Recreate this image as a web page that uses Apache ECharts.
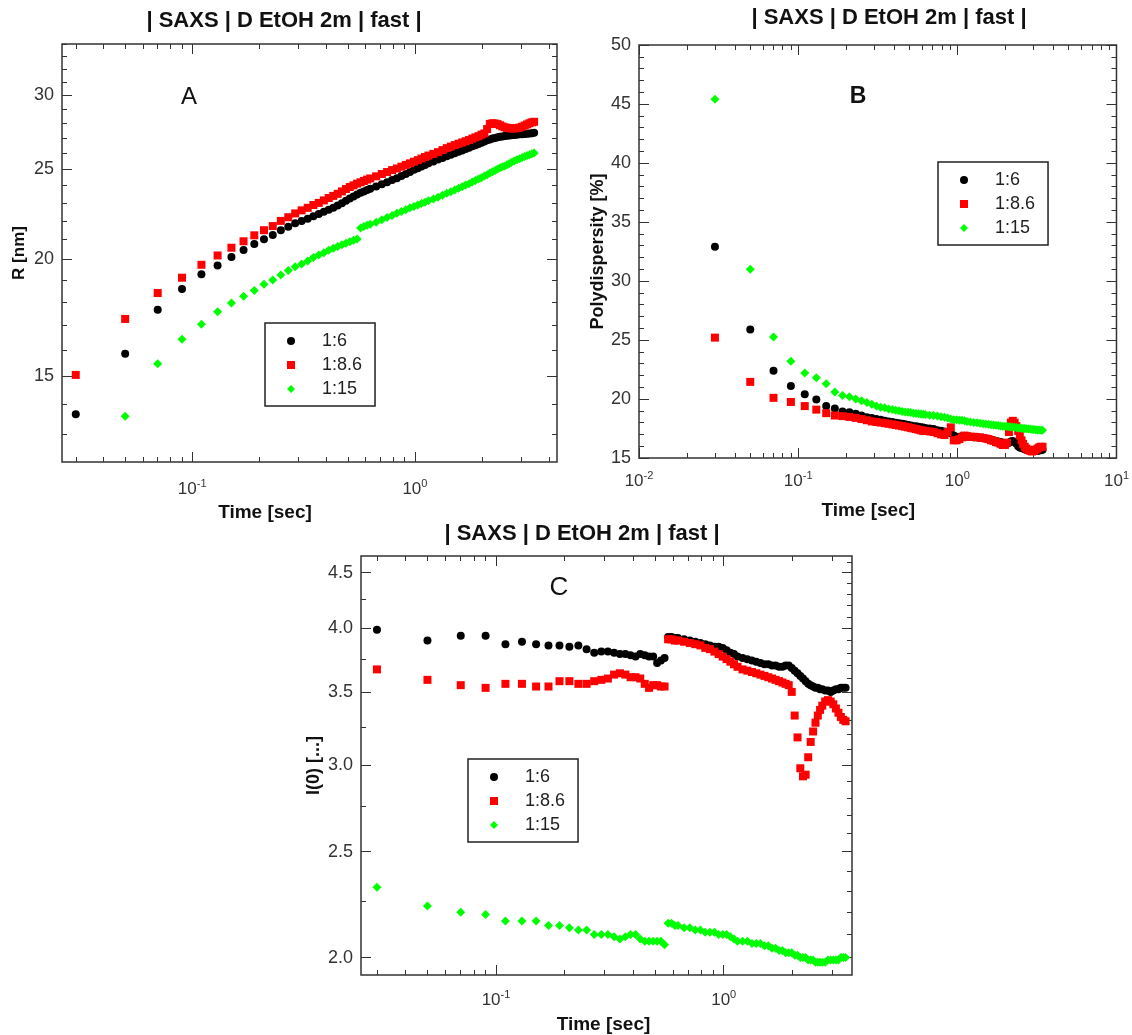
<!DOCTYPE html>
<html>
<head>
<meta charset="utf-8">
<script src="https://cdn.jsdelivr.net/npm/echarts@6/dist/echarts.min.js"></script>
<style>
html,body{margin:0;padding:0;background:#fff;}
#chart{width:1132px;height:1035px;}
</style>
</head>
<body>
<div id="chart"></div>
<script>
// ---------------- DATA ----------------
const TITLE = '| SAXS | D EtOH 2m | fast |';
const SERIES_NAMES = ['1:6', '1:8.6', '1:15'];

// acquisition times [sec]
const T = [
  0.03,0.05,0.07,0.09,0.11,0.13,0.15,0.17,0.19,0.21,
  0.23,0.25,0.27,0.29,0.31,0.33,0.35,0.37,0.39,0.41,
  0.43,0.45,0.47,0.49,0.51,0.53,0.55,0.57,0.59,0.61,
  0.63,0.67,0.71,0.75,0.79,0.83,0.87,0.91,0.95,0.99,
  1.03,1.07,1.11,1.15,1.21,1.27,1.33,1.39,1.45,1.51,
  1.57,1.63,1.69,1.75,1.81,1.87,1.93,1.99,2.05,2.11,
  2.17,2.23,2.29,2.35,2.41,2.47,2.53,2.59,2.65,2.71,
  2.79,2.87,2.95,3.03,3.11,3.19,3.27,3.35,3.43
];

// Panel A : R [nm]
const A_black = [
  13.65,15.85,17.67,18.60,19.28,19.70,20.12,20.48,20.78,21.02,
  21.25,21.50,21.68,21.87,22.00,22.12,22.25,22.38,22.50,22.62,
  22.72,22.85,22.98,23.12,23.25,23.36,23.48,23.58,23.66,23.74,
  23.82,23.95,24.08,24.20,24.33,24.45,24.58,24.70,24.83,24.96,
  25.06,25.16,25.26,25.36,25.48,25.60,25.70,25.80,25.90,26.00,
  26.10,26.18,26.27,26.36,26.45,26.52,26.60,26.68,26.76,26.84,
  26.90,26.96,27.00,27.04,27.08,27.10,27.13,27.15,27.17,27.18,
  27.20,27.22,27.24,27.25,27.27,27.28,27.30,27.32,27.35
];
const A_red = [
  15.04,17.27,18.41,19.12,19.74,20.20,20.59,20.92,21.23,21.50,
  21.72,22.00,22.20,22.41,22.58,22.72,22.88,23.00,23.14,23.28,
  23.40,23.52,23.66,23.80,23.92,24.02,24.12,24.20,24.28,24.36,
  24.43,24.56,24.70,24.82,24.94,25.04,25.15,25.26,25.36,25.46,
  25.56,25.66,25.76,25.85,25.96,26.07,26.20,26.33,26.43,26.53,
  26.62,26.70,26.78,26.86,26.96,27.04,27.12,27.22,27.30,27.60,
  27.95,28.00,27.98,27.94,27.86,27.78,27.72,27.68,27.66,27.64,
  27.64,27.66,27.70,27.76,27.84,27.92,28.00,28.06,28.10
];
const A_green = [
  null,13.58,15.46,16.42,17.04,17.58,17.96,18.26,18.52,18.81,
  19.01,19.25,19.46,19.64,19.78,19.92,20.10,20.22,20.34,20.46,
  20.56,20.65,20.74,20.82,20.90,20.97,21.04,21.62,21.70,21.76,
  21.82,21.92,22.06,22.18,22.30,22.42,22.52,22.62,22.72,22.80,
  22.88,22.96,23.04,23.12,23.22,23.32,23.44,23.56,23.64,23.74,
  23.84,23.94,24.04,24.12,24.22,24.30,24.40,24.48,24.58,24.66,
  24.76,24.84,24.92,25.00,25.08,25.14,25.20,25.27,25.34,25.41,
  25.50,25.58,25.65,25.72,25.79,25.85,25.91,25.96,26.02
];

// Panel B : Polydispersity [%]
const B_black = [
  32.9,25.9,22.4,21.1,20.4,19.95,19.4,19.2,18.95,18.88,
  18.75,18.6,18.45,18.4,18.3,18.25,18.15,18.1,18.05,17.98,
  17.95,17.9,17.85,17.8,17.75,17.7,17.7,17.65,17.6,17.58,
  17.55,17.5,17.45,17.35,17.3,17.25,17.2,17.1,16.9,16.8,
  16.8,16.85,16.85,16.8,16.8,16.75,16.75,16.7,16.7,16.65,
  16.6,16.55,16.5,16.45,16.4,16.35,16.3,16.25,16.2,16.3,
  16.4,16.45,16.35,16.2,16.0,15.9,15.85,15.8,15.75,15.7,
  15.7,15.65,15.6,15.6,15.6,15.6,15.65,15.65,15.7
];
const B_red = [
  25.2,21.45,20.1,19.75,19.4,19.1,18.8,18.6,18.55,18.48,
  18.4,18.3,18.2,18.1,18.05,18.0,17.95,17.9,17.85,17.8,
  17.75,17.7,17.65,17.6,17.55,17.5,17.45,17.4,17.35,17.3,
  17.3,17.25,17.2,17.1,17.0,16.95,17.2,17.6,16.5,16.5,
  16.6,16.75,16.9,16.85,16.8,16.8,16.75,16.75,16.7,16.65,
  16.6,16.5,16.45,16.35,16.3,16.2,16.1,16.1,16.3,17.2,
  18.0,18.15,18.0,17.7,17.3,16.9,16.5,16.2,15.95,15.8,
  15.7,15.6,15.55,15.6,15.7,15.8,15.9,15.95,15.95
];
const B_green = [
  45.4,31.0,25.25,23.2,22.2,21.8,21.3,20.6,20.3,20.2,
  20.0,19.85,19.7,19.55,19.4,19.3,19.25,19.15,19.1,19.05,
  19.0,18.95,18.9,18.88,18.85,18.8,18.78,18.75,18.72,18.7,
  18.68,18.62,18.6,18.55,18.5,18.45,18.4,18.3,18.25,18.25,
  18.2,18.2,18.15,18.1,18.05,18.0,17.98,17.95,17.9,17.88,
  17.85,17.82,17.8,17.78,17.75,17.72,17.7,17.7,17.68,17.65,
  17.62,17.6,17.6,17.58,17.55,17.55,17.52,17.5,17.5,17.48,
  17.46,17.45,17.42,17.42,17.4,17.38,17.38,17.36,17.35
];

// Panel C : I(0)
const C_black = [
  3.99,3.90,3.94,3.94,3.87,3.89,3.87,3.86,3.86,3.85,
  3.86,3.83,3.80,3.81,3.81,3.80,3.79,3.79,3.78,3.77,
  3.79,3.78,3.77,3.77,3.72,3.74,3.76,3.93,3.93,3.92,
  3.92,3.91,3.90,3.89,3.88,3.87,3.86,3.85,3.85,3.84,
  3.82,3.80,3.79,3.77,3.76,3.75,3.74,3.73,3.72,3.71,
  3.71,3.70,3.70,3.69,3.69,3.70,3.70,3.68,3.66,3.64,
  3.62,3.60,3.58,3.56,3.55,3.54,3.53,3.53,3.52,3.52,
  3.51,3.51,3.50,3.51,3.52,3.52,3.53,3.53,3.53
];
const C_red = [
  3.67,3.59,3.55,3.53,3.56,3.56,3.54,3.54,3.58,3.58,
  3.56,3.56,3.58,3.59,3.60,3.63,3.64,3.63,3.61,3.61,
  3.60,3.56,3.53,3.55,3.55,3.54,3.54,3.91,3.91,3.90,
  3.90,3.89,3.88,3.87,3.86,3.84,3.83,3.81,3.79,3.77,
  3.75,3.73,3.71,3.69,3.67,3.66,3.65,3.64,3.63,3.62,
  3.61,3.60,3.59,3.58,3.57,3.56,3.55,3.50,3.33,3.18,
  2.98,2.93,2.94,3.05,3.15,3.22,3.28,3.33,3.37,3.40,
  3.43,3.44,3.43,3.41,3.38,3.35,3.32,3.30,3.29
];
const C_green = [
  2.32,2.23,2.20,2.19,2.16,2.16,2.16,2.14,2.14,2.13,
  2.12,2.12,2.10,2.10,2.10,2.09,2.08,2.09,2.10,2.10,
  2.08,2.07,2.07,2.07,2.07,2.07,2.055,2.15,2.15,2.14,
  2.14,2.13,2.13,2.12,2.12,2.11,2.11,2.11,2.10,2.10,
  2.10,2.09,2.08,2.07,2.07,2.07,2.06,2.06,2.06,2.05,
  2.05,2.04,2.04,2.03,2.03,2.02,2.02,2.02,2.01,2.01,
  2.00,2.00,2.00,1.99,1.99,1.99,1.98,1.98,1.98,1.98,
  1.98,1.99,1.99,1.99,1.99,1.99,2.00,2.00,2.00
];

// tick values
const LOG_MAJOR = [0.01, 0.1, 1, 10];
const LOG_MINOR = [0.02,0.03,0.04,0.05,0.06,0.07,0.08,0.09,
                   0.2,0.3,0.4,0.5,0.6,0.7,0.8,0.9,
                   2,3,4,5,6,7,8,9];
const A_Y_MAJOR = [15, 20, 25, 30];
const A_Y_MINOR = [13,14,16,17,18,19,21,22,23,24,26,27,28,29,31,32,33,34];
const B_Y_MAJOR = [15, 20, 25, 30, 35, 40, 45, 50];
const B_Y_MINOR = [16,17,18,19,21,22,23,24,26,27,28,29,31,32,33,34,36,37,38,39,41,42,43,44,46,47,48,49];
const C_Y_MAJOR = [2.0, 2.5, 3.0, 3.5, 4.0, 4.5];
const C_Y_MINOR_L = [2.25, 2.75, 3.25, 3.75, 4.25];
const C_Y_MINOR_R = [2.1,2.2,2.3,2.4,2.6,2.7,2.8,2.9,3.1,3.2,3.3,3.4,3.6,3.7,3.8,3.9,4.1,4.2,4.3,4.4,4.6];

// ---------------- STYLE / LAYOUT ----------------
const FONT = '"Liberation Sans", Arial, Helvetica, sans-serif';
const TICK = '#333';
const COLORS = ['#000000', '#ff0000', '#00ff00'];
const SYMBOLS = ['circle', 'rect', 'diamond'];
const SIZES = [8, 8, 9];

function logLabel(margin) {
  return {
    show: true, margin: margin, fontFamily: FONT,
    formatter: v => '{b|10}{s|' + Math.round(Math.log10(v)) + '}',
    rich: {
      b: {fontSize: 17, fontFamily: FONT, color: '#333', lineHeight: 22},
      s: {fontSize: 11, fontFamily: FONT, color: '#333', verticalAlign: 'top', lineHeight: 12}
    }
  };
}
function numLabel(fmt) {
  return {show: true, margin: 8, fontSize: 18, fontFamily: FONT, color: '#333', formatter: fmt};
}
function tickStyle(vals, len) {
  return {show: true, inside: true, length: len, customValues: vals, lineStyle: {color: TICK, width: 1}};
}
function makeAxes(dim, gi, type, min, max, major, minorA, minorB, label, nameOpt) {
  const posA = dim === 'x' ? 'bottom' : 'left';
  const posB = dim === 'x' ? 'top' : 'right';
  const base = {gridIndex: gi, type: type, min: min, max: max,
    splitLine: {show: false}, axisLine: {show: false, onZero: false}, silent: true};
  if (type === 'log') base.logBase = 10;
  const lab = Object.assign({customValues: major}, label);
  return [
    Object.assign({}, base, {position: posA, axisTick: tickStyle(major, 10), axisLabel: lab}, nameOpt),
    Object.assign({}, base, {position: posA, axisTick: tickStyle(minorA, 5), axisLabel: {show: false}}),
    Object.assign({}, base, {position: posB, axisTick: tickStyle(major, 10), axisLabel: {show: false}}),
    Object.assign({}, base, {position: posB, axisTick: tickStyle(minorB, 5), axisLabel: {show: false}})
  ];
}
function xName(gap, shift) {
  return {name: 'Time [sec]', nameLocation: 'middle', nameGap: gap,
    nameTextStyle: {fontSize: 19, fontWeight: 'bold', color: '#111', fontFamily: FONT,
      padding: shift > 0 ? [0, shift, 0, 0] : [0, 0, 0, -shift]}};
}
function yName(text, gap, size) {
  return {name: text, nameLocation: 'middle', nameGap: gap,
    nameTextStyle: {fontSize: size, fontWeight: 'bold', color: '#111', fontFamily: FONT}};
}

const xAxes = [].concat(
  makeAxes('x', 0, 'log', 0.02602, 4.345, LOG_MAJOR, LOG_MINOR, LOG_MINOR, logLabel(16), xName(41, 89)),
  makeAxes('x', 1, 'log', 0.0099999, 10.00001, LOG_MAJOR, LOG_MINOR, LOG_MINOR, logLabel(12), xName(43, 19)),
  makeAxes('x', 2, 'log', 0.02553, 3.66, LOG_MAJOR, LOG_MINOR, LOG_MINOR, logLabel(14), xName(40, 6))
);
const yAxes = [].concat(
  makeAxes('y', 0, 'log', 12.13, 34.05, A_Y_MAJOR, A_Y_MINOR, A_Y_MINOR, numLabel(v => String(Math.round(v))), yName('R [nm]', 34, 17)),
  makeAxes('y', 1, 'value', 15, 50, B_Y_MAJOR, B_Y_MINOR, B_Y_MINOR, numLabel(v => String(Math.round(v))), yName('Polydispersity [%]', 32, 18)),
  makeAxes('y', 2, 'log', 1.928, 4.66, C_Y_MAJOR, C_Y_MINOR_L, C_Y_MINOR_R, numLabel(v => v.toFixed(1)), yName('I(0) [...]', 38, 18))
);

const PANELS = [
  [A_black, A_red, A_green],
  [B_black, B_red, B_green],
  [C_black, C_red, C_green]
];
const series = [];
PANELS.forEach((arrs, gi) => {
  arrs.forEach((arr, k) => {
    series.push({
      type: 'scatter', name: SERIES_NAMES[k],
      xAxisIndex: gi * 4, yAxisIndex: gi * 4,
      symbol: SYMBOLS[k], symbolSize: SIZES[k],
      itemStyle: {color: COLORS[k], opacity: 1},
      emphasis: {disabled: true}, silent: true,
      data: T.map((t, i) => [t, arr[i] == null ? '-' : arr[i]])
    });
  });
});

function mkLegend(left, top) {
  return {
    left: left, top: top, orient: 'vertical', data: SERIES_NAMES,
    itemWidth: 8, itemHeight: 8, itemGap: 6, padding: [9, 13, 8, 22],
    borderColor: '#222', borderWidth: 1.5, backgroundColor: '#fff',
    selectedMode: false,
    formatter: n => '{t|' + n + '}',
    textStyle: {fontSize: 18, fontFamily: FONT, color: '#222',
      rich: {t: {fontSize: 18, fontFamily: FONT, color: '#222', padding: [0, 0, 0, 22], lineHeight: 18}}}
  };
}
function mkTitle(text, x, top, size, weight) {
  return {text: text, left: x, top: top, textAlign: 'center',
    textStyle: {fontSize: size, fontWeight: weight, color: '#111', fontFamily: FONT}};
}

const option = {
  animation: false,
  backgroundColor: '#fff',
  title: [
    mkTitle(TITLE, 279, 5, 22, 'bold'),
    mkTitle(TITLE, 884, 2, 22, 'bold'),
    mkTitle(TITLE, 577, 518, 22, 'bold'),
    mkTitle('A', 184, 80, 24, 'normal'),
    mkTitle('B', 853, 80, 23, 'bold'),
    mkTitle('C', 554, 570, 26, 'normal')
  ],
  legend: [mkLegend(265, 323), mkLegend(938, 162), mkLegend(468, 759)],
  grid: [
    {left: 62, top: 44, width: 495, height: 418, show: true, borderColor: '#333', borderWidth: 1.5, backgroundColor: 'transparent'},
    {left: 639, top: 45, width: 481, height: 413, show: true, borderColor: '#333', borderWidth: 1.5, backgroundColor: 'transparent'},
    {left: 361, top: 556, width: 491, height: 419, show: true, borderColor: '#333', borderWidth: 1.5, backgroundColor: 'transparent'}
  ],
  xAxis: xAxes,
  yAxis: yAxes,
  series: series
};

const chart = echarts.init(document.getElementById('chart'), null, {renderer: 'canvas'});
chart.setOption(option);
</script>
</body>
</html>
